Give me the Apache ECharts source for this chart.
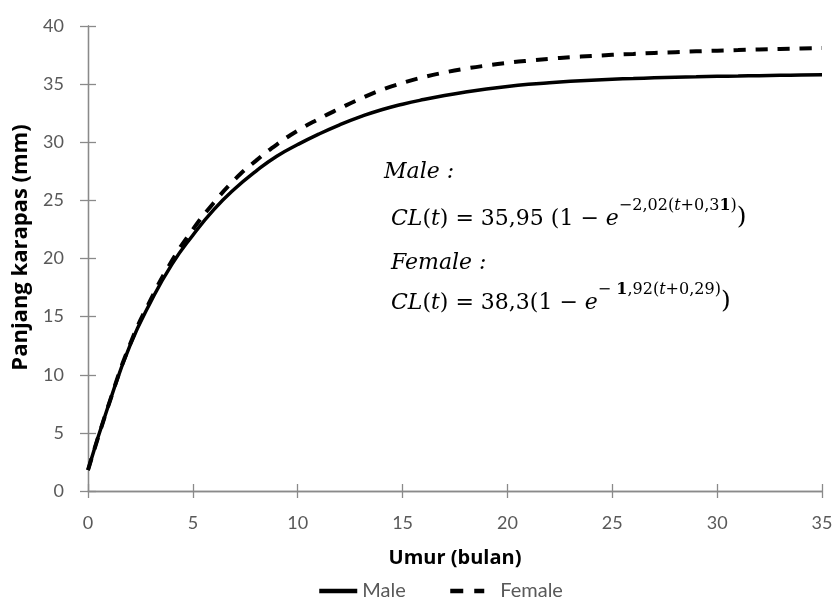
<!DOCTYPE html>
<html>
<head>
<meta charset="utf-8">
<script src="https://cdn.jsdelivr.net/npm/echarts@6/dist/echarts.min.js"></script>
<style>html,body{margin:0;padding:0;background:#fff}#c{width:839px;height:604px}</style>
</head>
<body>
<div id="c"></div>
<script>
const ages = [0,1,2,3,4,5,6,7,8,9,10,11,12,13,14,15,16,17,18,19,20,21,22,23,24,25,26,27,28,29,30,31,32,33,34,35];
const maleCL = [1.8,7.5,12.5,16.3,19.5,22.0,24.2,26.0,27.5,28.8,29.8,30.7,31.5,32.2,32.8,33.27,33.67,34.02,34.32,34.58,34.8,34.98,35.12,35.24,35.34,35.42,35.48,35.54,35.59,35.63,35.67,35.7,35.73,35.76,35.78,35.8];
const femaleCL = [1.8,7.5,12.6,16.5,19.8,22.5,24.8,26.8,28.4,29.8,31.0,32.0,32.9,33.75,34.5,35.1,35.6,36.0,36.33,36.6,36.83,37.02,37.18,37.31,37.42,37.52,37.6,37.68,37.75,37.82,37.88,37.93,37.98,38.02,38.06,38.1];
const xTicks = {min:0, max:35, interval:5};
const yTicks = {min:0, max:40, interval:5};
const seriesNames = ['Male','Female'];
const xTitle = 'Umur (bulan)';
const yTitle = 'Panjang karapas (mm)';

const axisColor = '#8a8a8a';
const labelColor = '#595959';
const font = 'Lato, "Open Sans", sans-serif';
const titleFont = '"Open Sans", Lato, sans-serif';
const serif = '"DejaVu Serif", "Liberation Serif", serif';

const chart = echarts.init(document.getElementById('c'), null, {renderer:'canvas'});
const pair = (xs, ys) => xs.map((x,i)=>[x, ys[i]]);

const baseX = {
  type:'value', min:xTicks.min, max:xTicks.max, interval:xTicks.interval,
  splitLine:{show:false},
  axisLine:{lineStyle:{color:axisColor, width:1.3}},
};
const baseY = {
  type:'value', min:yTicks.min, max:yTicks.max, interval:yTicks.interval,
  splitLine:{show:false},
  axisLine:{show:true, lineStyle:{color:axisColor, width:1.3}},
};

const rich = {
  a:{font:'22px ' + serif, fill:'#000', verticalAlign:'bottom', lineHeight:32},
  i:{font:'italic 22px ' + serif, fill:'#000', verticalAlign:'bottom', lineHeight:32},
  p:{font:'25px ' + serif, fill:'#000', verticalAlign:'bottom', lineHeight:32},
  s:{font:'16px ' + serif, fill:'#000', verticalAlign:'top', lineHeight:32},
  sb:{font:'bold 16px ' + serif, fill:'#000', verticalAlign:'top', lineHeight:32},
  si:{font:'italic 16px ' + serif, fill:'#000', verticalAlign:'top', lineHeight:32}
};

chart.setOption({
  animation:false,
  backgroundColor:'#fff',
  grid:{left:88, right:17, top:26, bottom:113, containLabel:false},
  xAxis:[
    Object.assign({}, baseX, {
      position:'bottom',
      axisTick:{show:true, inside:false, length:7, lineStyle:{color:axisColor, width:1.3}},
      axisLabel:{color:labelColor, fontSize:18, fontFamily:font, margin:23},
      name:xTitle, nameLocation:'middle', nameGap:57,
      nameTextStyle:{color:'#000', fontSize:20, fontWeight:'bold', fontFamily:titleFont}
    }),
    Object.assign({}, baseX, {
      position:'bottom',
      axisTick:{show:true, inside:true, length:7, lineStyle:{color:axisColor, width:1.3}},
      axisLabel:{show:false}
    })
  ],
  yAxis:[
    Object.assign({}, baseY, {
      position:'left',
      axisTick:{show:true, inside:false, length:8, lineStyle:{color:axisColor, width:1.3}},
      axisLabel:{color:labelColor, fontSize:18, fontFamily:font, margin:24},
      name:yTitle, nameLocation:'middle', nameGap:55, nameRotate:90,
      nameTextStyle:{color:'#000', fontSize:22, fontWeight:'bold', fontFamily:titleFont, padding:[0,0,0,22]}
    }),
    Object.assign({}, baseY, {
      position:'left',
      axisTick:{show:true, inside:true, length:8, lineStyle:{color:axisColor, width:1.3}},
      axisLabel:{show:false}
    })
  ],
  legend:[
    {
      left:312, top:576, itemWidth:38, itemHeight:14,
      itemStyle:{opacity:0}, lineStyle:{width:4.5},
      textStyle:{color:labelColor, fontSize:20, fontFamily:font},
      data:[seriesNames[0]]
    },
    {
      left:443, top:576, itemWidth:34, itemHeight:14,
      itemStyle:{opacity:0}, lineStyle:{width:4.5, type:[13,11]},
      textStyle:{color:labelColor, fontSize:20, fontFamily:font, padding:[0,0,0,11]},
      data:[seriesNames[1]]
    }
  ],
  series:[
    {name:seriesNames[0], type:'line', smooth:true, showSymbol:false, symbol:'none',
     data:pair(ages, maleCL), lineStyle:{color:'#000', width:3.5, type:'solid'}, itemStyle:{color:'#000'}},
    {name:seriesNames[1], type:'line', smooth:true, showSymbol:false, symbol:'none',
     data:pair(ages, femaleCL), lineStyle:{color:'#000', width:4, type:[12,10]}, itemStyle:{color:'#000'}}
  ],
  graphic:[
    {type:'text', left:384, top:161, style:{text:'Male :', font:'italic 22px ' + serif, fill:'#000'}},
    {type:'text', left:391, top:198, style:{
      text:'{i|CL}{a|(}{i|t}{a|) = 35,95 (1 − }{i|e}{s|−2,02(}{si|t}{s|+0,3}{sb|1}{s|)}{p|)}', rich:rich}},
    {type:'text', left:391, top:252, style:{text:'Female :', font:'italic 22px ' + serif, fill:'#000'}},
    {type:'text', left:391, top:282, style:{
      text:'{i|CL}{a|(}{i|t}{a|) = 38,3(1 − }{i|e}{s|− }{sb|1}{s|,92(}{si|t}{s|+0,29)}{p|)}', rich:rich}}
  ]
});
</script>
</body>
</html>
